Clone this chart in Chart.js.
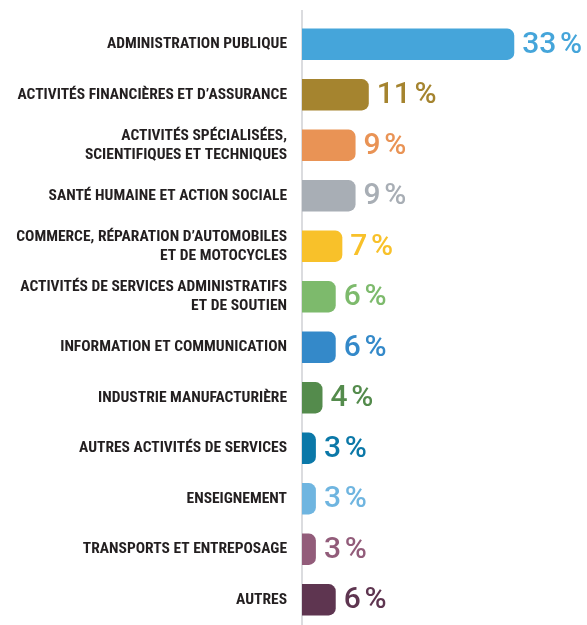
<!DOCTYPE html>
<html>
<head>
<meta charset="utf-8">
<script src="https://cdn.jsdelivr.net/npm/chart.js@4"></script>
<style>
  html, body { margin:0; padding:0; background:#fff; }
  #wrap { width:587px; height:625px; }
</style>
</head>
<body>
<div id="wrap"><canvas id="chart" width="587" height="625"></canvas></div>
<script>
// Secteurs d'activité
const categories = [
  'ADMINISTRATION PUBLIQUE',
  'ACTIVITÉS FINANCIÈRES ET D’ASSURANCE',
  ['ACTIVITÉS SPÉCIALISÉES,', 'SCIENTIFIQUES ET TECHNIQUES'],
  'SANTÉ HUMAINE ET ACTION SOCIALE',
  ['COMMERCE, RÉPARATION D’AUTOMOBILES', 'ET DE MOTOCYCLES'],
  ['ACTIVITÉS DE SERVICES ADMINISTRATIFS', 'ET DE SOUTIEN'],
  'INFORMATION ET COMMUNICATION',
  'INDUSTRIE MANUFACTURIÈRE',
  'AUTRES ACTIVITÉS DE SERVICES',
  'ENSEIGNEMENT',
  'TRANSPORTS ET ENTREPOSAGE',
  'AUTRES'
];
const values = [33, 11, 9, 9, 7, 6, 6, 4, 3, 3, 3, 6];
const colors = [
  '#45a5da', '#a5842f', '#e99355', '#a8aeb5', '#f8c12a', '#7dba6c',
  '#3489c9', '#548b4c', '#0b78a8', '#6fb5e0', '#925c7a', '#5e3550'
];

const AXIS_X = 302;

// Ligne verticale + étiquettes de valeur
const valueLabels = {
  id: 'valueLabels',
  beforeDatasetsDraw(chart) {
    const c = chart.ctx;
    c.save();
    c.strokeStyle = '#cfd0d4';
    c.lineWidth = 1.5;
    c.beginPath();
    c.moveTo(AXIS_X, 10);
    c.lineTo(AXIS_X, chart.height);
    c.stroke();
    c.restore();
  },
  afterDatasetsDraw(chart) {
    const c = chart.ctx;
    const meta = chart.getDatasetMeta(0);
    c.save();
    c.font = '500 30px Roboto, "Noto Sans", sans-serif';
    c.textBaseline = 'middle';
    c.textAlign = 'left';
    meta.data.forEach((bar, i) => {
      c.fillStyle = colors[i];
      c.fillText(values[i] + '\u202F%', bar.x + 8, bar.y + 1);
    });
    c.restore();
  }
};

new Chart(document.getElementById('chart').getContext('2d'), {
  type: 'bar',
  data: {
    labels: categories,
    datasets: [{
      data: values,
      backgroundColor: colors,
      borderRadius: 7,
      borderSkipped: 'start',
      barPercentage: 0.62,
      categoryPercentage: 1
    }]
  },
  options: {
    indexAxis: 'y',
    responsive: false,
    animation: false,
    layout: { padding: { top: 19, right: 0, bottom: 0, left: 0 } },
    plugins: { legend: { display:false }, tooltip: { enabled:false } },
    scales: {
      x: { display:false, min:0.9, max:44 },
      y: {
        grid: { display:false, drawTicks:false },
        border: { display:false },
        afterFit: s => { s.width = AXIS_X; s.paddingTop = 0; s.paddingBottom = 0; },
        ticks: {
          padding: 15,
          color: '#231f20',
          font: { family: '"Liberation Sans Narrow", "Roboto Condensed", Roboto, sans-serif', weight: 'bold', size: 15.5, lineHeight: '19px' }
        }
      }
    }
  },
  plugins: [valueLabels]
});
</script>
</body>
</html>
